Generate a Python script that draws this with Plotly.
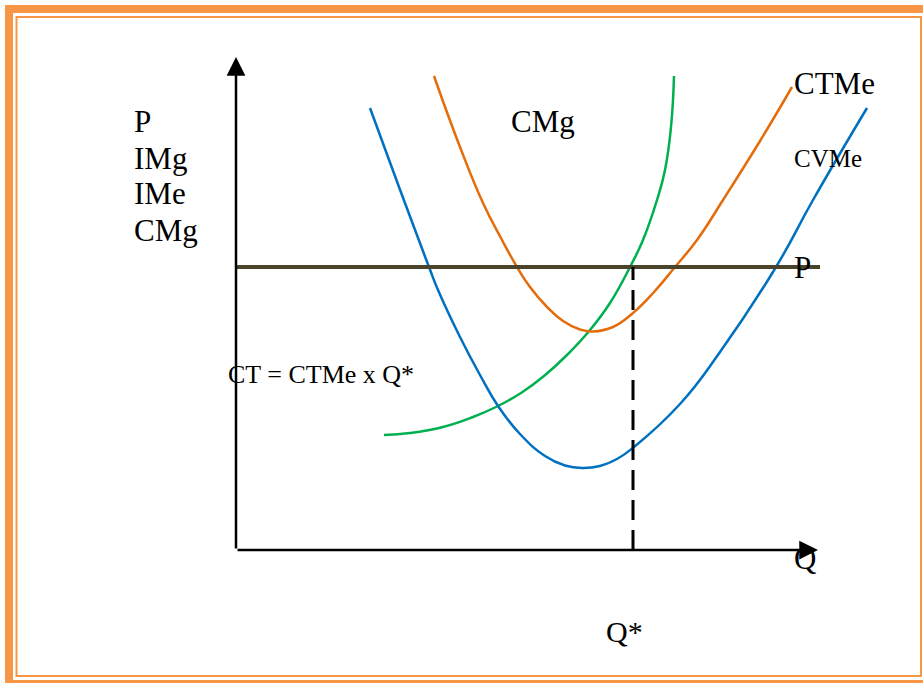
import plotly.graph_objects as go

# --- Curves (Q on x, price on y) ---
cvme_q = [2.68, 3.26, 3.86, 4.04, 4.48, 4.88, 5.24, 5.68, 6.18, 6.58, 6.92,
          7.28, 7.62, 7.96, 8.88, 9.68, 10.80, 11.54, 12.62]
cvme_p = [8.84, 7.26, 5.66, 5.20, 4.26, 3.50, 2.88, 2.32, 1.88, 1.69, 1.64,
          1.68, 1.82, 2.06, 2.92, 3.96, 5.66, 7.00, 8.84]

ctme_q = [3.96, 4.48, 4.94, 5.32, 5.62, 5.88, 6.22, 6.54, 6.88, 7.14, 7.54,
          7.94, 8.36, 8.78, 9.22, 9.74, 10.48, 11.12]
ctme_p = [9.48, 8.06, 6.94, 6.20, 5.66, 5.26, 4.86, 4.58, 4.41, 4.37, 4.46,
          4.74, 5.16, 5.66, 6.20, 7.00, 8.18, 9.26]

cmg_q = [2.96, 3.48, 4.14, 4.74, 5.24, 5.70, 6.16, 6.62, 7.08, 7.48, 7.88,
         8.14, 8.42, 8.58, 8.70, 8.76]
cmg_p = [2.30, 2.34, 2.46, 2.66, 2.88, 3.14, 3.48, 3.90, 4.40, 4.94, 5.66,
         6.20, 7.00, 7.60, 8.46, 9.48]

price = 5.66
q_star = 7.94
q_max = 11.68
y_axis_top = 9.86
x_axis_end = 11.64

# --- Page geometry (pixels) ---
W, H = 923, 683
PX = 50.0          # pixels per unit
OX, OY = 236, 550  # origin in pixels

FONT = "Liberation Serif, Times New Roman, serif"
ORANGE_FRAME = "#F79646"

fig = go.Figure()

for xs, ys, color in [(cmg_q, cmg_p, "#00B050"),
                      (ctme_q, ctme_p, "#E46C0A"),
                      (cvme_q, cvme_p, "#0070C0")]:
    fig.add_trace(go.Scatter(x=xs, y=ys, mode="lines",
                             line=dict(color=color, width=2.5,
                                       shape="spline", smoothing=1.3)))

# price line and Q* dashed line
fig.add_trace(go.Scatter(x=[0, q_max], y=[price, price], mode="lines",
                         line=dict(color="#4A452A", width=4)))
fig.add_trace(go.Scatter(x=[q_star, q_star], y=[0, price], mode="lines",
                         line=dict(color="black", width=3, dash="20px,10px")))

# axes with arrows
arrow = dict(xref="x", yref="y", axref="x", ayref="y", text="",
             showarrow=True, arrowhead=2, arrowsize=1.5, arrowwidth=2.5,
             arrowcolor="black")
fig.add_annotation(x=0, y=y_axis_top, ax=0, ay=0, **arrow)
fig.add_annotation(x=x_axis_end, y=0, ax=0, ay=0, **arrow)


def label(text, x, y, size=31):
    fig.add_annotation(x=x, y=y, text=text, showarrow=False, xanchor="left",
                       yanchor="middle", font=dict(family=FONT, size=size,
                                                   color="black"))


label("P", -2.08, 8.58)
label("IMg", -2.08, 7.84)
label("IMe", -2.08, 7.14)
label("CMg", -2.08, 6.40)
label("CMg", 5.46, 8.58)
label("CTMe", 11.12, 9.33)
label("CVMe", 11.12, 7.84, 25)
label("P", 11.12, 5.66)
label("Q", 11.12, -0.16)
label("Q*", 7.36, -1.62, 30)
label("CT = CTMe x Q*", -0.20, 3.52, 26)

# orange double frame
fig.add_shape(type="rect", xref="paper", yref="paper",
              x0=9 / W, x1=928 / W, y0=1 - 684 / H, y1=1 - 9 / H,
              line=dict(color=ORANGE_FRAME, width=8), layer="below")
fig.add_shape(type="rect", xref="paper", yref="paper",
              x0=16.5 / W, x1=921 / W, y0=1 - 676 / H, y1=1 - 17 / H,
              line=dict(color=ORANGE_FRAME, width=2), layer="below")

fig.update_layout(
    width=W, height=H,
    margin=dict(l=0, r=0, t=0, b=0),
    paper_bgcolor="white", plot_bgcolor="white",
    showlegend=False,
    xaxis=dict(range=[-OX / PX, (W - OX) / PX], visible=False, fixedrange=True),
    yaxis=dict(range=[(OY - H) / PX, OY / PX], visible=False, fixedrange=True),
)

fig.write_html("out.html", config={"displayModeBar": False},
               post_script="document.body.style.margin='0';"
                           "document.body.style.overflow='hidden';")
